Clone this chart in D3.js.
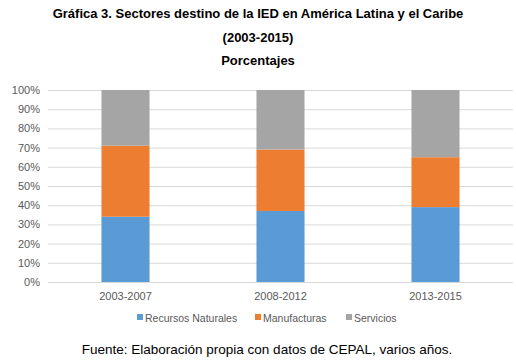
<!DOCTYPE html>
<html>
<head>
<meta charset="utf-8">
<script src="https://cdn.jsdelivr.net/npm/d3@7"></script>
<style>
  body { margin: 0; background: #fff; }
  svg { display: block; font-family: "Liberation Sans", Arial, sans-serif; }
</style>
</head>
<body>
<div id="chart"></div>
<script>
const periods = ["2003-2007", "2008-2012", "2013-2015"];
const recursos = [34, 37, 39];
const manufacturas = [37, 32, 26];
const servicios = [29, 31, 35];
const seriesNames = ["Recursos Naturales", "Manufacturas", "Servicios"];
const seriesColors = ["#5b9bd5", "#ed7d31", "#a5a5a5"];
const yTicks = [0, 10, 20, 30, 40, 50, 60, 70, 80, 90, 100];

const W = 516, H = 362;
const margin = {top: 90, right: 3, bottom: 80, left: 48};
const width = W - margin.left - margin.right,
      height = H - margin.top - margin.bottom;

const svg = d3.select("#chart")
              .append("svg")
              .attr("width", W)
              .attr("height", H);

// titles
const titles = ["Gráfica 3. Sectores destino de la IED en América Latina y el Caribe", "(2003-2015)", "Porcentajes"];
svg.selectAll(".title")
   .data(titles)
   .join("text")
   .attr("class", "title")
   .attr("x", 258)
   .attr("y", (d, i) => 18 + i * 23.5)
   .attr("text-anchor", "middle")
   .attr("font-size", 13)
   .attr("font-weight", "bold")
   .attr("fill", "#000")
   .text(d => d);

const g = svg.append("g")
             .attr("transform", `translate(${margin.left}, ${margin.top})`);

const table = periods.map((p, i) => ({
  period: p,
  "Recursos Naturales": recursos[i],
  "Manufacturas": manufacturas[i],
  "Servicios": servicios[i]
}));

const x = d3.scaleBand()
            .domain(periods)
            .range([0, width])
            .paddingInner(0.69)
            .paddingOuter(0.345);

const y = d3.scaleLinear()
            .domain([0, 100])
            .range([height, 0]);

// gridlines
g.append("g")
 .selectAll("line")
 .data(yTicks)
 .join("line")
 .attr("x1", 0)
 .attr("x2", width)
 .attr("y1", d => y(d) + 0.5)
 .attr("y2", d => y(d) + 0.5)
 .attr("stroke", "#d9d9d9")
 .attr("stroke-width", 1);

// y axis labels
const yAxis = g.append("g")
               .call(d3.axisLeft(y).tickValues(yTicks).tickFormat(d => d + "%").tickSize(0).tickPadding(8));
yAxis.select(".domain").remove();
yAxis.selectAll("text")
     .attr("font-size", 11)
     .attr("fill", "#595959")
     .attr("font-family", "Liberation Sans, Arial, sans-serif");

// stacked bars
const stack = d3.stack().keys(seriesNames);
const color = d3.scaleOrdinal().domain(seriesNames).range(seriesColors);

g.append("g")
 .selectAll("g")
 .data(stack(table))
 .join("g")
 .attr("fill", d => color(d.key))
 .selectAll("rect")
 .data(d => d)
 .join("rect")
 .attr("x", d => x(d.data.period))
 .attr("y", d => y(d[1]))
 .attr("width", x.bandwidth())
 .attr("height", d => y(d[0]) - y(d[1]));

// x axis labels
const xAxis = g.append("g")
               .attr("transform", `translate(0, ${height})`)
               .call(d3.axisBottom(x).tickSize(0).tickPadding(10));
xAxis.select(".domain").remove();
xAxis.selectAll("text")
     .attr("font-size", 11)
     .attr("fill", "#595959")
     .attr("font-family", "Liberation Sans, Arial, sans-serif");

// legend
const legendX = [137, 255, 346];
const legend = svg.append("g")
                  .selectAll("g")
                  .data(seriesNames)
                  .join("g")
                  .attr("transform", (d, i) => `translate(${legendX[i]}, 318)`);
legend.append("rect")
      .attr("x", 0)
      .attr("y", -4)
      .attr("width", 6)
      .attr("height", 6)
      .attr("fill", d => color(d));
legend.append("text")
      .attr("x", 8)
      .attr("y", 4)
      .attr("font-size", 10.5)
      .attr("fill", "#595959")
      .text(d => d);

// source
svg.append("text")
   .attr("x", 267)
   .attr("y", 354)
   .attr("text-anchor", "middle")
   .attr("font-size", 13.5)
   .attr("fill", "#000")
   .text("Fuente: Elaboración propia con datos de CEPAL, varios años.");
</script>
</body>
</html>
